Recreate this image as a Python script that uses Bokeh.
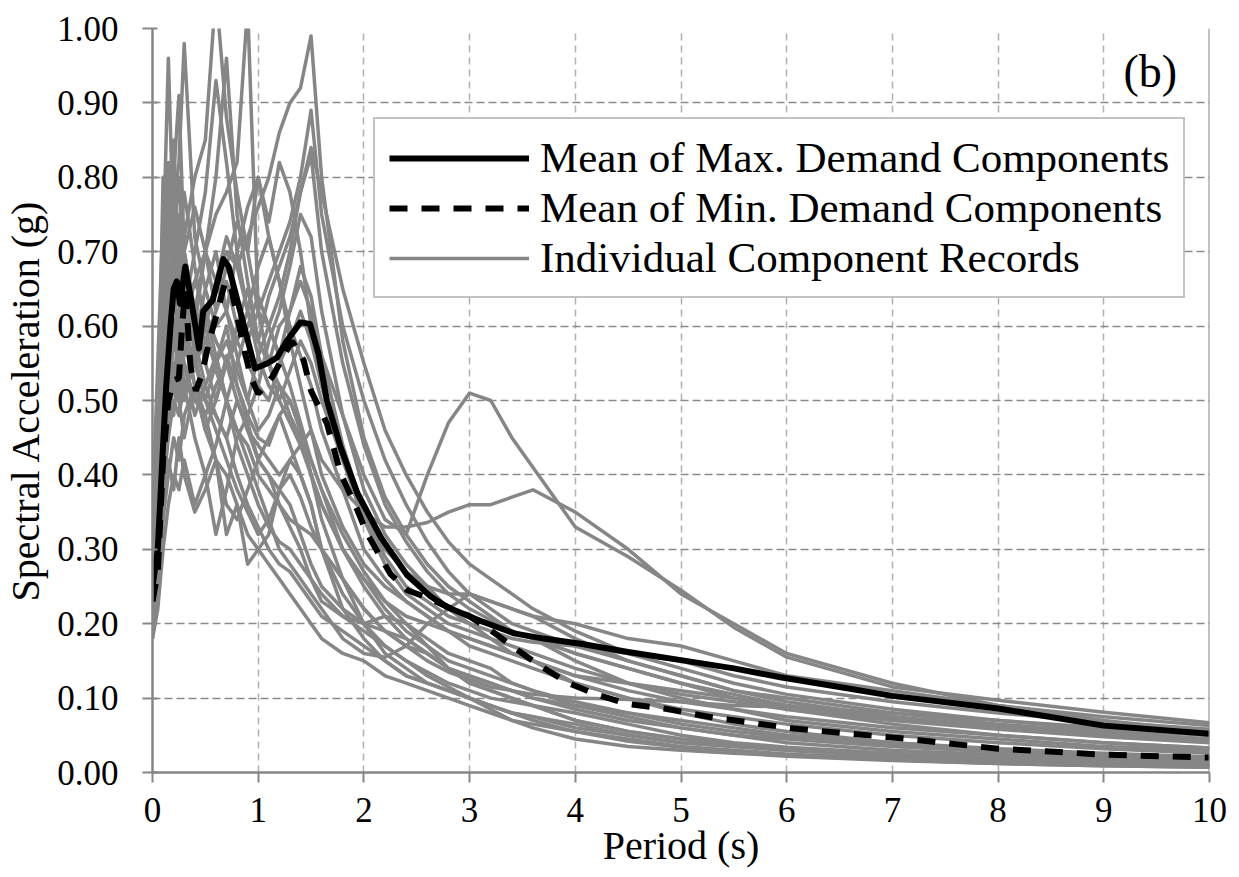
from bokeh.plotting import figure
from bokeh.models import (ColumnDataSource, Legend, LegendItem, Span, Label,
                          Range1d, FixedTicker, NumeralTickFormatter)
from bokeh.embed import file_html
from bokeh.resources import INLINE

# ---------------- data ----------------
PERIODS = [0.0, 0.05, 0.1, 0.15, 0.2, 0.25, 0.3, 0.4, 0.5, 0.6, 0.7, 0.8, 0.9, 1.0,
           1.1, 1.2, 1.3, 1.4, 1.5, 1.6, 1.8, 2.0, 2.2, 2.4, 2.6, 2.8, 3.0, 3.2, 3.4,
           3.6, 4.0, 4.5, 5.0, 5.5, 6.0, 7.0, 8.0, 9.0, 10.0]

rec01 = [0.25, 0.45, 0.70, 0.96, 0.72, 0.65, 0.60, 0.55, 0.50, 0.48, 0.45, 0.40, 0.36, 0.33, 0.30, 0.28, 0.27, 0.25, 0.23, 0.21, 0.19, 0.17, 0.15, 0.13, 0.12, 0.11, 0.10, 0.09, 0.08, 0.075, 0.06, 0.05, 0.04, 0.035, 0.03, 0.022, 0.017, 0.013, 0.010]
rec02 = [0.22, 0.40, 0.62, 0.75, 0.80, 0.91, 0.70, 0.62, 0.58, 0.55, 0.60, 0.52, 0.47, 0.42, 0.40, 0.38, 0.40, 0.37, 0.33, 0.30, 0.26, 0.22, 0.19, 0.17, 0.16, 0.14, 0.13, 0.12, 0.11, 0.10, 0.085, 0.07, 0.06, 0.05, 0.045, 0.035, 0.028, 0.022, 0.018]
rec03 = [0.28, 0.38, 0.55, 0.62, 0.70, 0.66, 0.72, 0.80, 0.85, 1.05, 0.88, 0.78, 0.70, 0.62, 0.55, 0.52, 0.48, 0.45, 0.42, 0.38, 0.32, 0.27, 0.23, 0.20, 0.18, 0.16, 0.15, 0.14, 0.12, 0.11, 0.09, 0.075, 0.06, 0.05, 0.04, 0.03, 0.024, 0.019, 0.015]
rec04 = [0.26, 0.35, 0.48, 0.55, 0.60, 0.58, 0.62, 0.66, 0.70, 0.75, 0.78, 0.82, 1.03, 0.62, 0.60, 0.56, 0.52, 0.47, 0.42, 0.38, 0.30, 0.25, 0.21, 0.18, 0.16, 0.14, 0.12, 0.11, 0.10, 0.09, 0.07, 0.055, 0.045, 0.038, 0.032, 0.024, 0.018, 0.014, 0.011]
rec05 = [0.24, 0.30, 0.42, 0.50, 0.55, 0.52, 0.58, 0.62, 0.60, 0.66, 0.70, 0.68, 0.72, 0.76, 0.80, 0.86, 0.90, 0.92, 0.99, 0.80, 0.58, 0.45, 0.37, 0.32, 0.28, 0.25, 0.23, 0.21, 0.19, 0.18, 0.15, 0.12, 0.10, 0.085, 0.07, 0.055, 0.045, 0.035, 0.03]
rec06 = [0.20, 0.28, 0.38, 0.45, 0.50, 0.48, 0.52, 0.55, 0.58, 0.62, 0.66, 0.60, 0.58, 0.62, 0.66, 0.70, 0.74, 0.80, 0.89, 0.75, 0.60, 0.50, 0.42, 0.36, 0.31, 0.27, 0.24, 0.22, 0.20, 0.19, 0.17, 0.15, 0.13, 0.11, 0.095, 0.075, 0.06, 0.05, 0.042]
rec07 = [0.30, 0.36, 0.45, 0.52, 0.58, 0.55, 0.50, 0.56, 0.62, 0.58, 0.55, 0.60, 0.65, 0.58, 0.55, 0.60, 0.62, 0.66, 0.62, 0.56, 0.48, 0.40, 0.34, 0.32, 0.40, 0.47, 0.51, 0.50, 0.45, 0.41, 0.33, 0.29, 0.245, 0.195, 0.155, 0.115, 0.097, 0.081, 0.067]
rec08 = [0.22, 0.30, 0.40, 0.48, 0.52, 0.50, 0.55, 0.50, 0.48, 0.52, 0.55, 0.50, 0.46, 0.44, 0.42, 0.40, 0.42, 0.44, 0.46, 0.42, 0.38, 0.35, 0.33, 0.33, 0.336, 0.35, 0.36, 0.36, 0.37, 0.38, 0.35, 0.30, 0.24, 0.20, 0.16, 0.12, 0.09, 0.07, 0.055]
rec09 = [0.19, 0.45, 0.80, 0.68, 0.62, 0.70, 0.58, 0.52, 0.46, 0.42, 0.40, 0.36, 0.32, 0.30, 0.28, 0.26, 0.24, 0.22, 0.20, 0.18, 0.16, 0.15, 0.13, 0.12, 0.11, 0.10, 0.09, 0.08, 0.07, 0.065, 0.055, 0.045, 0.035, 0.03, 0.025, 0.018, 0.013, 0.010, 0.008]
rec10 = [0.32, 0.50, 0.72, 0.78, 0.85, 0.68, 0.62, 0.58, 0.65, 0.70, 0.62, 0.56, 0.50, 0.46, 0.48, 0.52, 0.50, 0.46, 0.40, 0.36, 0.30, 0.26, 0.23, 0.21, 0.20, 0.19, 0.18, 0.17, 0.16, 0.15, 0.13, 0.11, 0.095, 0.085, 0.075, 0.06, 0.05, 0.04, 0.033]
rec11 = [0.24, 0.32, 0.46, 0.55, 0.60, 0.62, 0.66, 0.60, 0.70, 0.80, 0.96, 0.75, 0.66, 0.58, 0.55, 0.50, 0.47, 0.44, 0.40, 0.36, 0.30, 0.26, 0.22, 0.19, 0.17, 0.15, 0.14, 0.13, 0.12, 0.11, 0.095, 0.08, 0.065, 0.055, 0.048, 0.036, 0.028, 0.022, 0.018]
rec12 = [0.18, 0.22, 0.30, 0.36, 0.40, 0.38, 0.42, 0.36, 0.40, 0.32, 0.38, 0.45, 0.48, 0.52, 0.58, 0.62, 0.68, 0.75, 0.72, 0.62, 0.48, 0.38, 0.32, 0.28, 0.25, 0.22, 0.20, 0.18, 0.16, 0.15, 0.12, 0.10, 0.08, 0.065, 0.055, 0.04, 0.03, 0.024, 0.02]
rec13 = [0.21, 0.28, 0.40, 0.48, 0.55, 0.50, 0.45, 0.52, 0.48, 0.42, 0.32, 0.36, 0.28, 0.30, 0.32, 0.38, 0.42, 0.40, 0.36, 0.30, 0.22, 0.18, 0.15, 0.13, 0.12, 0.11, 0.10, 0.09, 0.08, 0.075, 0.065, 0.05, 0.04, 0.035, 0.03, 0.022, 0.016, 0.012, 0.009]
rec14 = [0.27, 0.42, 0.60, 0.70, 0.76, 0.82, 0.98, 0.72, 0.65, 0.60, 0.62, 0.58, 0.55, 0.52, 0.50, 0.55, 0.58, 0.62, 0.58, 0.52, 0.42, 0.34, 0.28, 0.24, 0.22, 0.20, 0.19, 0.18, 0.17, 0.16, 0.14, 0.12, 0.11, 0.10, 0.09, 0.075, 0.062, 0.052, 0.045]
rec15 = [0.23, 0.33, 0.52, 0.58, 0.66, 0.72, 0.62, 0.70, 0.78, 0.93, 0.82, 0.70, 0.62, 0.68, 0.72, 0.66, 0.60, 0.56, 0.52, 0.46, 0.38, 0.30, 0.26, 0.23, 0.21, 0.19, 0.17, 0.16, 0.15, 0.14, 0.12, 0.10, 0.085, 0.075, 0.065, 0.05, 0.04, 0.032, 0.026]
rec16 = [0.20, 0.26, 0.34, 0.40, 0.45, 0.42, 0.48, 0.52, 0.50, 0.55, 0.58, 0.54, 0.50, 0.56, 0.60, 0.64, 0.70, 0.78, 0.84, 0.78, 0.65, 0.55, 0.46, 0.40, 0.35, 0.31, 0.28, 0.26, 0.24, 0.22, 0.19, 0.16, 0.14, 0.12, 0.105, 0.085, 0.07, 0.06, 0.05]
rec17 = [0.25, 0.40, 0.58, 0.66, 0.60, 0.55, 0.62, 0.58, 0.52, 0.48, 0.45, 0.50, 0.46, 0.42, 0.40, 0.36, 0.33, 0.30, 0.26, 0.23, 0.21, 0.20, 0.21, 0.20, 0.17, 0.14, 0.12, 0.11, 0.10, 0.09, 0.07, 0.055, 0.045, 0.038, 0.032, 0.024, 0.018, 0.014, 0.011]
rec18 = [0.19, 0.30, 0.48, 0.55, 0.52, 0.60, 0.55, 0.48, 0.52, 0.56, 0.50, 0.46, 0.42, 0.38, 0.34, 0.30, 0.28, 0.26, 0.24, 0.22, 0.18, 0.16, 0.155, 0.17, 0.20, 0.22, 0.24, 0.23, 0.22, 0.21, 0.18, 0.15, 0.13, 0.11, 0.10, 0.08, 0.065, 0.055, 0.045]
rec19 = [0.30, 0.48, 0.65, 0.72, 0.68, 0.75, 0.70, 0.62, 0.55, 0.50, 0.56, 0.52, 0.48, 0.45, 0.44, 0.48, 0.50, 0.46, 0.40, 0.34, 0.26, 0.20, 0.16, 0.14, 0.12, 0.11, 0.10, 0.085, 0.07, 0.06, 0.045, 0.035, 0.03, 0.026, 0.022, 0.016, 0.012, 0.009, 0.007]
rec20 = [0.35, 0.55, 0.75, 0.82, 0.70, 0.64, 0.58, 0.55, 0.60, 0.66, 0.72, 0.68, 0.62, 0.56, 0.52, 0.50, 0.54, 0.58, 0.55, 0.50, 0.42, 0.36, 0.31, 0.27, 0.24, 0.22, 0.21, 0.20, 0.19, 0.18, 0.16, 0.14, 0.12, 0.105, 0.09, 0.072, 0.06, 0.05, 0.042]
rec21 = [0.24, 0.36, 0.55, 0.62, 0.72, 0.66, 0.60, 0.66, 0.62, 0.56, 0.50, 0.46, 0.44, 0.40, 0.38, 0.36, 0.34, 0.33, 0.32, 0.30, 0.26, 0.22, 0.19, 0.17, 0.15, 0.135, 0.125, 0.115, 0.11, 0.105, 0.10, 0.098, 0.095, 0.09, 0.088, 0.08, 0.07, 0.058, 0.05]
rec22 = [0.21, 0.34, 0.62, 0.78, 0.66, 0.58, 0.52, 0.45, 0.40, 0.44, 0.50, 0.55, 0.60, 0.64, 0.60, 0.56, 0.62, 0.68, 0.64, 0.56, 0.44, 0.35, 0.29, 0.25, 0.23, 0.21, 0.20, 0.19, 0.18, 0.175, 0.17, 0.16, 0.15, 0.13, 0.115, 0.095, 0.08, 0.068, 0.058]
rec23 = [0.26, 0.44, 0.68, 0.60, 0.72, 0.80, 0.66, 0.56, 0.50, 0.46, 0.42, 0.38, 0.35, 0.32, 0.34, 0.38, 0.36, 0.32, 0.28, 0.25, 0.22, 0.20, 0.19, 0.18, 0.16, 0.14, 0.13, 0.12, 0.11, 0.10, 0.09, 0.08, 0.07, 0.06, 0.05, 0.04, 0.032, 0.026, 0.021]
rec24 = [0.22, 0.30, 0.42, 0.50, 0.58, 0.62, 0.56, 0.62, 0.70, 0.66, 0.62, 0.70, 0.76, 0.80, 0.74, 0.82, 0.78, 0.70, 0.60, 0.52, 0.42, 0.34, 0.30, 0.27, 0.25, 0.24, 0.24, 0.23, 0.22, 0.21, 0.20, 0.18, 0.17, 0.15, 0.13, 0.11, 0.09, 0.075, 0.063]
rec25 = [0.18, 0.25, 0.35, 0.42, 0.38, 0.45, 0.40, 0.35, 0.38, 0.42, 0.36, 0.34, 0.38, 0.42, 0.45, 0.48, 0.44, 0.40, 0.36, 0.30, 0.24, 0.20, 0.17, 0.15, 0.13, 0.115, 0.10, 0.09, 0.08, 0.07, 0.055, 0.042, 0.034, 0.028, 0.024, 0.017, 0.012, 0.009, 0.007]
rec26 = [0.27, 0.36, 0.50, 0.60, 0.68, 0.64, 0.70, 0.76, 0.70, 0.62, 0.68, 0.74, 0.70, 0.80, 0.72, 0.66, 0.58, 0.52, 0.46, 0.40, 0.33, 0.28, 0.25, 0.23, 0.21, 0.19, 0.18, 0.17, 0.16, 0.15, 0.13, 0.12, 0.105, 0.095, 0.085, 0.07, 0.058, 0.048, 0.04]
rec27 = [0.23, 0.32, 0.44, 0.52, 0.48, 0.55, 0.60, 0.52, 0.46, 0.50, 0.55, 0.58, 0.62, 0.58, 0.64, 0.68, 0.72, 0.78, 0.83, 0.70, 0.55, 0.44, 0.36, 0.31, 0.27, 0.24, 0.22, 0.205, 0.19, 0.18, 0.16, 0.14, 0.12, 0.10, 0.085, 0.065, 0.05, 0.04, 0.033]
rec28 = [0.20, 0.38, 0.56, 0.64, 0.74, 0.70, 0.78, 0.68, 0.60, 0.54, 0.50, 0.44, 0.40, 0.36, 0.33, 0.31, 0.30, 0.28, 0.26, 0.24, 0.21, 0.19, 0.17, 0.15, 0.135, 0.12, 0.11, 0.10, 0.095, 0.09, 0.08, 0.065, 0.05, 0.04, 0.034, 0.026, 0.02, 0.016, 0.013]

RECORDS = [rec01, rec02, rec03, rec04, rec05, rec06, rec07, rec08, rec09, rec10,
           rec11, rec12, rec13, rec14, rec15, rec16, rec17, rec18, rec19, rec20,
           rec21, rec22, rec23, rec24, rec25, rec26, rec27, rec28]

max_T = [0.0, 0.05, 0.1, 0.13, 0.17, 0.2, 0.23, 0.26, 0.31, 0.36, 0.44, 0.48, 0.57, 0.67, 0.72,
         0.83, 0.97, 1.09, 1.18, 1.27, 1.4, 1.49, 1.57, 1.65, 1.78, 1.94, 2.16, 2.41, 2.63, 2.79,
         3.1, 3.42, 3.7, 4.05, 4.5, 5.0, 5.5, 5.94, 6.5, 7.0, 8.0, 9.0, 10.0]
max_Sa = [0.25, 0.30, 0.44, 0.52, 0.60, 0.65, 0.66, 0.63, 0.68, 0.64, 0.57, 0.62, 0.635, 0.69, 0.68,
          0.62, 0.543, 0.55, 0.558, 0.58, 0.605, 0.603, 0.563, 0.50, 0.437, 0.375, 0.316, 0.265, 0.237, 0.222,
          0.204, 0.187, 0.18, 0.173, 0.162, 0.151, 0.14, 0.128, 0.115, 0.103, 0.086, 0.063, 0.052]

min_T = [0.0, 0.05, 0.1, 0.15, 0.2, 0.25, 0.28, 0.31, 0.36, 0.41, 0.47, 0.53, 0.61, 0.69, 0.75,
         0.85, 0.93, 1.0, 1.13, 1.32, 1.43, 1.5, 1.65, 1.78, 1.94, 2.03, 2.25, 2.41, 2.6, 2.8,
         3.0, 3.24, 3.45, 3.64, 3.92, 4.2, 4.5, 4.84, 5.3, 6.07, 7.08, 8.0, 9.0, 10.0]
min_Sa = [0.23, 0.27, 0.42, 0.50, 0.527, 0.53, 0.60, 0.65, 0.545, 0.513, 0.536, 0.577, 0.617, 0.661, 0.648,
          0.58, 0.531, 0.509, 0.531, 0.58, 0.554, 0.513, 0.469, 0.402, 0.352, 0.321, 0.267, 0.245, 0.235, 0.222,
          0.21, 0.187, 0.165, 0.146, 0.121, 0.105, 0.092, 0.086, 0.074, 0.059, 0.046, 0.032, 0.024, 0.020]

X_TICKS = [0, 1, 2, 3, 4, 5, 6, 7, 8, 9, 10]
Y_TICKS = [0.0, 0.1, 0.2, 0.3, 0.4, 0.5, 0.6, 0.7, 0.8, 0.9, 1.0]

LABEL_MAX = "Mean of Max. Demand Components"
LABEL_MIN = "Mean of Min. Demand Components"
LABEL_REC = "Individual Component Records"

# ---------------- figure ----------------
FONT = "Liberation Serif"
GREY = "#868686"

p = figure(width=1239, height=877, x_range=Range1d(0, 10), y_range=Range1d(0, 1),
           output_backend="svg", toolbar_location=None,
           min_border_left=152, min_border_right=30, min_border_top=28, min_border_bottom=105)
p.outline_line_color = None
p.background_fill_color = "white"
p.border_fill_color = "white"

# grids
p.ygrid.grid_line_color = "#8a8a8a"
p.ygrid.grid_line_width = 1.5
p.ygrid.grid_line_dash = "8 4"
p.xgrid.grid_line_color = "#b0b0b0"
p.xgrid.grid_line_width = 1.5
p.xgrid.grid_line_dash = "7 5"

# axes
p.xaxis.ticker = FixedTicker(ticks=X_TICKS)
p.yaxis.ticker = FixedTicker(ticks=Y_TICKS)
p.yaxis.formatter = NumeralTickFormatter(format="0.00")
for ax in (p.xaxis[0], p.yaxis[0]):
    ax.axis_line_color = GREY
    ax.axis_line_width = 2.5
    ax.major_tick_line_color = GREY
    ax.major_tick_line_width = 2
    ax.minor_tick_line_color = None
    ax.major_label_text_font = FONT
    ax.major_label_text_font_size = "35px"
    ax.major_label_text_color = "black"
    ax.axis_label_text_font = FONT
    ax.axis_label_text_font_size = "40px"
    ax.axis_label_text_font_style = "normal"
    ax.axis_label_text_color = "black"
p.xaxis.major_tick_out = 10
p.xaxis.major_tick_in = 0
p.yaxis.major_tick_out = 10
p.yaxis.major_tick_in = 5
p.xaxis.major_label_standoff = 15
p.yaxis.major_label_standoff = 24
p.xaxis.axis_label = "Period (s)"
p.yaxis.axis_label = "Spectral Acceleration (g)"
p.xaxis.axis_label_standoff = -2
p.yaxis.axis_label_standoff = 6

# right border line at x = 10
p.add_layout(Span(location=10, dimension="height", line_color=GREY, line_width=2))

# records
rec_src = ColumnDataSource(dict(xs=[PERIODS] * len(RECORDS), ys=RECORDS))
r_rec = p.multi_line(xs="xs", ys="ys", source=rec_src, line_color=GREY, line_width=3.5,
                     line_join="round")

r_min = p.line(min_T, min_Sa, line_color="black", line_width=6, line_dash="18 14")
r_max = p.line(max_T, max_Sa, line_color="black", line_width=6, line_join="round")

legend = Legend(items=[LegendItem(label=LABEL_MAX, renderers=[r_max]),
                       LegendItem(label=LABEL_MIN, renderers=[r_min]),
                       LegendItem(label=LABEL_REC, renderers=[r_rec])],
                location=(221, 474), margin=0, padding=14, spacing=1,
                glyph_width=140, glyph_height=40, label_height=40, label_standoff=11,
                label_text_font=FONT, label_text_font_size="43px", label_text_color="black",
                border_line_color=GREY, border_line_width=2.5,
                background_fill_color="white", background_fill_alpha=1.0)
p.add_layout(legend)

p.add_layout(Label(x=9.44, y=0.942, text="(b)", text_align="center", text_baseline="middle",
                   text_font=FONT, text_font_size="46px", text_color="black"))

open("out.html", "w").write(file_html(p, INLINE))
